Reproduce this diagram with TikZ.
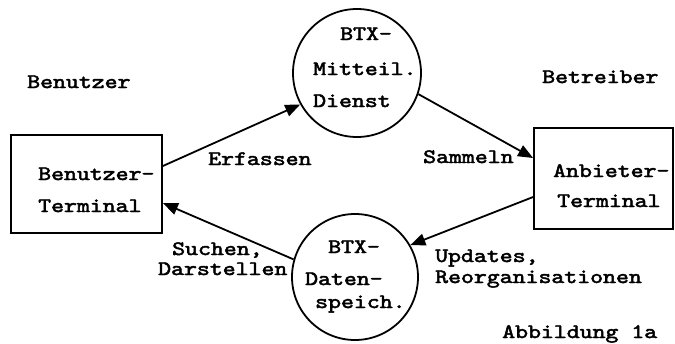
\documentclass[tikz,border=0pt]{standalone}
\usepackage{fontspec}
\usepackage{graphicx}
\usetikzlibrary{arrows.meta}
\newfontfamily\twfont{lmmono10-regular.otf}[FakeBold=2.2]
\newcommand{\twr}[1]{\scalebox{1.2}[1]{#1}}
\tikzset{
  lbl/.style={inner sep=0pt, anchor=base west, font=\fontsize{20.5pt}{24pt}\selectfont\twfont},
  boxnode/.style={draw, line width=1.8pt, rectangle, inner sep=0pt},
  proc/.style={draw, line width=1.8pt, circle, inner sep=0pt},
  flow/.style={line width=1.8pt, -{Triangle[length=15pt,width=12pt]}}
}
\begin{document}
\begin{tikzpicture}[x=1pt,y=-1pt]
\useasboundingbox (0,0) rectangle (675,343);
% boxes and processes
\node[boxnode, minimum width=151pt, minimum height=98pt] (lb) at (86.5,184) {};
\node[boxnode, minimum width=139pt, minimum height=101pt] (rb) at (603.5,178.5) {};
\node[proc, minimum size=128pt] (tc) at (357,73) {};
\node[proc, minimum size=126pt] (bc) at (355,277) {};
% texts
\node[lbl] (benutzer) at (27,88) {\twr{Benutzer}};
\node[lbl] (betreiber) at (542,83) {\twr{Betreiber}};
\node[lbl] (lb1) at (38,180) {\twr{Benutzer-}};
\node[lbl] (lb2) at (38,212) {\twr{Terminal}};
\node[lbl] (rb1) at (553,177) {\twr{Anbieter-}};
\node[lbl] (rb2) at (557,207) {\twr{Terminal}};
\node[lbl] (tc1) at (340,40) {\twr{BTX-}};
\node[lbl] (tc2) at (313,75) {\twr{Mitteil.}};
\node[lbl] (tc3) at (313,107) {\twr{Dienst}};
\node[lbl] (bc1) at (328,253) {\twr{BTX-}};
\node[lbl] (bc2) at (305,285) {\twr{Daten-}};
\node[lbl] (bc3) at (315,308) {\twr{speich.}};
\node[lbl] (erf) at (208,165) {\twr{Erfassen}};
\node[lbl] (sam) at (423,163) {\twr{Sammeln}};
\node[lbl] (upd1) at (435,262) {\twr{Updates,}};
\node[lbl] (upd2) at (435,283) {\twr{Reorganisationen}};
\node[lbl] (such1) at (172,255) {\twr{Suchen,}};
\node[lbl] (such2) at (158,275) {\twr{Darstellen}};
\node[lbl] (abb) at (502,338) {\twr{Abbildung 1a}};
% connectors
\draw[flow] ([yshift=18pt]lb.east) -- (tc.209.7);
\draw[flow] (tc.-19.8) -- ([yshift=20.5pt]rb.west);
\draw[flow] ([yshift=-18.5pt]rb.west) -- (bc.30.8);
\draw[flow] (bc.164.9) -- ([yshift=-19pt]lb.east);
\end{tikzpicture}
\end{document}
